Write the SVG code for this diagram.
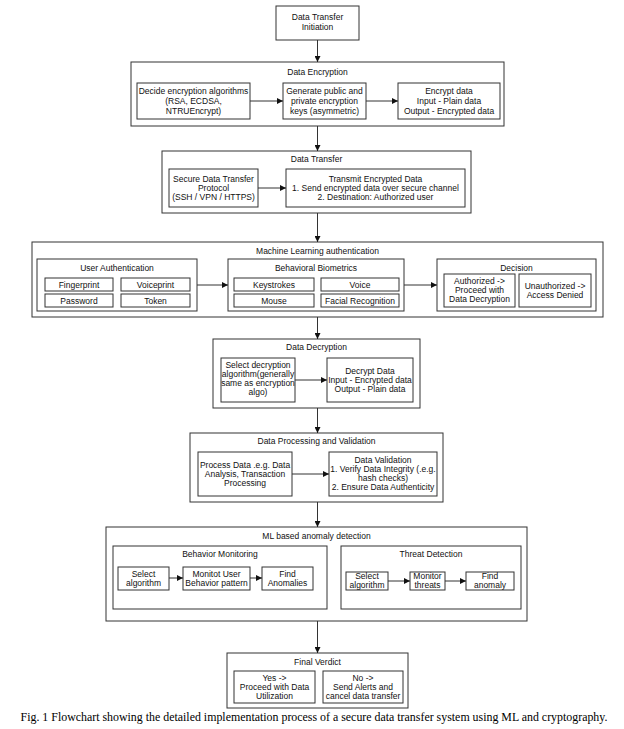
<svg xmlns="http://www.w3.org/2000/svg" width="624" height="729" viewBox="0 0 624 729">
<style>
.b{fill:#fff;stroke:#333;stroke-width:1}
.t{font-family:"Liberation Sans",Arial,sans-serif;font-size:8.5px;fill:#111;text-anchor:middle}
.c{stroke:#333;stroke-width:1;fill:none;marker-end:url(#ah)}
.cap{font-family:"Liberation Serif","Times New Roman",serif;font-size:11.9px;fill:#000;text-anchor:middle}
</style>
<defs>
<marker id="ah" markerUnits="userSpaceOnUse" markerWidth="6" markerHeight="6" refX="6" refY="3" orient="auto">
<path d="M0,0 L6,3 L0,6 z" fill="#111"/>
</marker>
</defs>
<rect width="624" height="729" fill="#fff"/>

<g id="init">
<rect class="b" x="276" y="6" width="83" height="34"/>
<text class="t" x="317.5" y="20">Data Transfer</text>
<text class="t" x="317.5" y="30">Initiation</text>
</g>

<g id="encryption">
<rect class="b" x="131" y="62" width="373" height="64"/>
<text class="t" x="317.5" y="75">Data Encryption</text>
<g id="enc-decide">
<rect class="b" x="137" y="83" width="113" height="36"/>
<text class="t" x="193.5" y="94">Decide encryption algorithms</text>
<text class="t" x="193.5" y="104">(RSA, ECDSA,</text>
<text class="t" x="193.5" y="114">NTRUEncrypt)</text>
</g>
<g id="enc-keys">
<rect class="b" x="283" y="83" width="83" height="36"/>
<text class="t" x="324.5" y="94">Generate public and</text>
<text class="t" x="324.5" y="104">private encryption</text>
<text class="t" x="324.5" y="114">keys (asymmetric)</text>
</g>
<g id="enc-data">
<rect class="b" x="398" y="83" width="102" height="36"/>
<text class="t" x="449" y="94">Encrypt data</text>
<text class="t" x="449" y="104">Input - Plain data</text>
<text class="t" x="449" y="114">Output - Encrypted data</text>
</g>
</g>

<g id="transfer">
<rect class="b" x="162" y="151" width="309" height="62"/>
<text class="t" x="316.5" y="162">Data Transfer</text>
<g id="tr-protocol">
<rect class="b" x="169" y="169" width="89" height="38"/>
<text class="t" x="213.5" y="182">Secure Data Transfer</text>
<text class="t" x="213.5" y="191">Protocol</text>
<text class="t" x="213.5" y="200">(SSH / VPN  / HTTPS)</text>
</g>
<g id="tr-transmit">
<rect class="b" x="286" y="169" width="179" height="38"/>
<text class="t" x="375.5" y="182">Transmit Encrypted Data</text>
<text class="t" x="375.5" y="191">1. Send encrypted data over secure channel</text>
<text class="t" x="375.5" y="200">2. Destination: Authorized user</text>
</g>
</g>

<g id="mlauth">
<rect class="b" x="32" y="242" width="571" height="75"/>
<text class="t" x="317.5" y="254">Machine Learning authentication</text>
<g id="user-auth">
<rect class="b" x="37" y="259" width="160" height="52"/>
<text class="t" x="117" y="271">User Authentication</text>
<rect class="b" x="45" y="278" width="68" height="13"/>
<text class="t" x="79" y="287.5">Fingerprint</text>
<rect class="b" x="121" y="278" width="69" height="13"/>
<text class="t" x="155.5" y="287.5">Voiceprint</text>
<rect class="b" x="45" y="294" width="68" height="13"/>
<text class="t" x="79" y="303.5">Password</text>
<rect class="b" x="121" y="294" width="69" height="13"/>
<text class="t" x="155.5" y="303.5">Token</text>
</g>
<g id="behavioral">
<rect class="b" x="228" y="259" width="176" height="52"/>
<text class="t" x="316" y="271">Behavioral Biometrics</text>
<rect class="b" x="234" y="278" width="80" height="13"/>
<text class="t" x="274" y="287.5">Keystrokes</text>
<rect class="b" x="321" y="278" width="78" height="13"/>
<text class="t" x="360" y="287.5">Voice</text>
<rect class="b" x="234" y="294" width="80" height="13"/>
<text class="t" x="274" y="303.5">Mouse</text>
<rect class="b" x="321" y="294" width="78" height="13"/>
<text class="t" x="360" y="303.5">Facial Recognition</text>
</g>
<g id="decision">
<rect class="b" x="437" y="259" width="159" height="52"/>
<text class="t" x="516.5" y="271">Decision</text>
<rect class="b" x="444" y="274" width="71" height="33"/>
<text class="t" x="479.5" y="284">Authorized -&gt;</text>
<text class="t" x="479.5" y="293">Proceed with</text>
<text class="t" x="479.5" y="302">Data Decryption</text>
<rect class="b" x="519" y="274" width="72" height="33"/>
<text class="t" x="555" y="289">Unauthorized -&gt;</text>
<text class="t" x="555" y="298">Access Denied</text>
</g>
</g>

<g id="decryption">
<rect class="b" x="213" y="339" width="207" height="69"/>
<text class="t" x="316.5" y="350">Data Decryption</text>
<g id="dec-select">
<rect class="b" x="221" y="358" width="74" height="44"/>
<text class="t" x="258" y="368">Select decryption</text>
<text class="t" x="258" y="377">algorithm(generally</text>
<text class="t" x="258" y="386">same as encryption</text>
<text class="t" x="258" y="395">algo)</text>
</g>
<g id="dec-data">
<rect class="b" x="327" y="358" width="86" height="44"/>
<text class="t" x="370" y="374">Decrypt Data</text>
<text class="t" x="370" y="383">Input - Encrypted data</text>
<text class="t" x="370" y="392">Output - Plain data</text>
</g>
</g>

<g id="processing">
<rect class="b" x="190" y="433" width="253" height="69"/>
<text class="t" x="316.5" y="444">Data Processing and Validation</text>
<g id="proc-data">
<rect class="b" x="198" y="452" width="94" height="44"/>
<text class="t" x="245" y="468">Process Data .e.g. Data</text>
<text class="t" x="245" y="477">Analysis, Transaction</text>
<text class="t" x="245" y="486">Processing</text>
</g>
<g id="proc-valid">
<rect class="b" x="329" y="452" width="108" height="44"/>
<text class="t" x="383" y="463">Data Validation</text>
<text class="t" x="383" y="472">1. Verify Data Integrity (.e.g.</text>
<text class="t" x="383" y="481">hash checks)</text>
<text class="t" x="383" y="490">2. Ensure Data Authenticity</text>
</g>
</g>

<g id="anomaly">
<rect class="b" x="106" y="527" width="421" height="94"/>
<text class="t" x="316.5" y="539">ML based anomaly detection</text>
<g id="behavior-mon">
<rect class="b" x="113" y="546" width="214" height="63"/>
<text class="t" x="220" y="557">Behavior Monitoring</text>
<rect class="b" x="118" y="567" width="51" height="23"/>
<text class="t" x="143.5" y="577">Select</text>
<text class="t" x="143.5" y="586">algorithm</text>
<rect class="b" x="183" y="567" width="67" height="23"/>
<text class="t" x="216.5" y="577">Monitot User</text>
<text class="t" x="216.5" y="586">Behavior pattern</text>
<rect class="b" x="262" y="567" width="51" height="23"/>
<text class="t" x="287.5" y="577">Find</text>
<text class="t" x="287.5" y="586">Anomalies</text>
</g>
<g id="threat">
<rect class="b" x="341" y="546" width="180" height="63"/>
<text class="t" x="431" y="557">Threat Detection</text>
<rect class="b" x="346" y="572" width="42" height="18"/>
<text class="t" x="367" y="579">Select</text>
<text class="t" x="367" y="588">algorithm</text>
<rect class="b" x="410" y="572" width="35" height="18"/>
<text class="t" x="427.5" y="579">Monitor</text>
<text class="t" x="427.5" y="588">threats</text>
<rect class="b" x="466" y="572" width="48" height="18"/>
<text class="t" x="490" y="579">Find</text>
<text class="t" x="490" y="588">anomaly</text>
</g>
</g>

<g id="verdict">
<rect class="b" x="227" y="653" width="181" height="55"/>
<text class="t" x="317.5" y="665">Final Verdict</text>
<rect class="b" x="234" y="671" width="81" height="32"/>
<text class="t" x="274.5" y="681">Yes -&gt;</text>
<text class="t" x="274.5" y="690">Proceed with Data</text>
<text class="t" x="274.5" y="699">Utilization</text>
<rect class="b" x="323" y="671" width="80" height="32"/>
<text class="t" x="363" y="681">No -&gt;</text>
<text class="t" x="363" y="690">Send Alerts and</text>
<text class="t" x="363" y="699">cancel data transfer</text>
</g>

<g id="connectors">
<path class="c" d="M317.5,40 V62"/>
<path class="c" d="M317.5,126 V151"/>
<path class="c" d="M317.5,213 V242"/>
<path class="c" d="M317.5,317 V339"/>
<path class="c" d="M317.5,408 V433"/>
<path class="c" d="M317.5,502 V527"/>
<path class="c" d="M317.5,621 V653"/>
<path class="c" d="M250,101 H283"/>
<path class="c" d="M366,101 H398"/>
<path class="c" d="M258,188 H286"/>
<path class="c" d="M197,285 H228"/>
<path class="c" d="M404,285 H437"/>
<path class="c" d="M295,380 H327"/>
<path class="c" d="M292,474 H329"/>
<path class="c" d="M169,578 H183"/>
<path class="c" d="M250,578 H262"/>
<path class="c" d="M388,581 H410"/>
<path class="c" d="M445,581 H466"/>
</g>

<text class="cap" x="314" y="721">Fig. 1 Flowchart showing the detailed implementation process of a secure data transfer system using ML and cryptography.</text>
</svg>
